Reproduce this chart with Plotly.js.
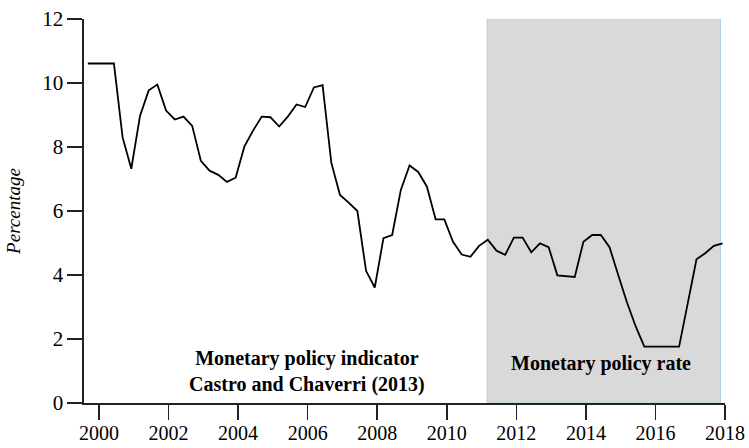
<!DOCTYPE html>
<html>
<head>
<meta charset="utf-8">
<script src="https://cdn.plot.ly/plotly-3.0.1.min.js"></script>
<style>html,body{margin:0;padding:0;background:#fff;}#chart{width:749px;height:448px;}</style>
</head>
<body>
<div id="chart"></div>
<script>
// Quarterly observations, first quarter at ~1999.68 (decimal year)
var startYear = 1999.68;
var values = [
  10.61, 10.61, 10.61, 10.61, 8.30, 7.32, 8.97, 9.77, 9.95, 9.14,
  8.86, 8.95, 8.66, 7.57, 7.26, 7.13, 6.91, 7.04, 8.01, 8.51,
  8.95, 8.93, 8.64, 8.95, 9.33, 9.25, 9.86, 9.93, 7.51, 6.50,
  6.26, 6.00, 4.13, 3.61, 5.15, 5.25, 6.66, 7.42, 7.22, 6.76,
  5.74, 5.74, 5.04, 4.64, 4.57, 4.91, 5.10, 4.76, 4.63, 5.17,
  5.17, 4.71, 4.99, 4.87, 3.99, 3.96, 3.94, 5.04, 5.25, 5.25,
  4.87, 4.00, 3.15, 2.40, 1.76, 1.76, 1.76, 1.76, 1.76, 3.12,
  4.49, 4.68, 4.91, 4.99
];
var years = values.map(function(v, i){ return startYear + 0.25 * i; });

var xTickVals = [2000, 2002, 2004, 2006, 2008, 2010, 2012, 2014, 2016, 2018];
var yTickVals = [0, 2, 4, 6, 8, 10, 12];
var shadeStart = 2011.16, shadeEnd = 2017.87;
var labelIndicator = "Monetary policy indicator<br>Castro and Chaverri (2013)";
var labelRate = "Monetary policy rate";
var yTitle = "Percentage";

var serif = "'Liberation Serif', 'DejaVu Serif', serif";

var trace = {
  x: years, y: values, type: 'scatter', mode: 'lines',
  line: {color: '#000', width: 1.8}, hoverinfo: 'skip', showlegend: false
};

var layout = {
  width: 749, height: 448,
  margin: {l: 84, r: 24, t: 19, b: 45},
  paper_bgcolor: '#fff', plot_bgcolor: 'rgba(0,0,0,0)',
  font: {family: serif, color: '#000', size: 20},
  xaxis: {
    range: [1999.57, 2018], tickvals: xTickVals, ticktext: xTickVals.map(String),
    showgrid: false, zeroline: false, showline: true, linecolor: '#222', linewidth: 1.6,
    ticks: 'outside', ticklen: 15, tickwidth: 1.6, tickcolor: '#222',
    ticklabelstandoff: -4,
    tickfont: {family: serif, size: 20, color: '#000'}, fixedrange: true
  },
  yaxis: {
    range: [0, 12], tickvals: yTickVals, ticktext: yTickVals.map(String),
    showgrid: false, zeroline: false, showline: true, linecolor: '#222', linewidth: 1.6,
    ticks: 'outside', ticklen: 15, tickwidth: 1.6, tickcolor: '#222',
    tickfont: {family: serif, size: 21, color: '#000'},
    title: {text: '<i>' + yTitle + '</i>', font: {family: serif, size: 19, color: '#000'}, standoff: 16},
    fixedrange: true
  },
  shapes: [{
    type: 'rect', xref: 'x', yref: 'y', x0: shadeStart, x1: shadeEnd, y0: 0, y1: 12,
    fillcolor: '#d9d9d9', line: {color: '#a9d3e3', width: 1}, layer: 'below'
  }],
  annotations: [
    {x: 2005.99, y: 0.97, xref: 'x', yref: 'y', text: '<b>' + labelIndicator + '</b>', showarrow: false,
     font: {family: serif, size: 20, color: '#000'}, align: 'center'},
    {x: 2014.43, y: 1.22, xref: 'x', yref: 'y', text: '<b>' + labelRate + '</b>', showarrow: false,
     font: {family: serif, size: 20, color: '#000'}, align: 'center'}
  ]
};

Plotly.newPlot('chart', [trace], layout, {displayModeBar: false, staticPlot: true});
</script>
</body>
</html>
